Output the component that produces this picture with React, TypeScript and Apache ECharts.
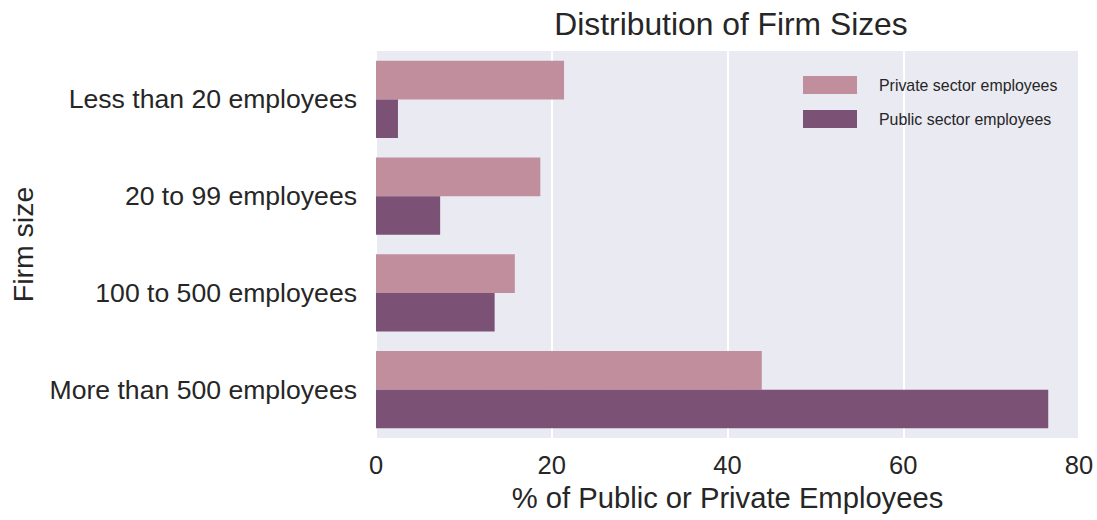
import React, { useEffect, useRef } from "react";
import * as echarts from "echarts";

const categories = [
  "Less than 20 employees",
  "20 to 99 employees",
  "100 to 500 employees",
  "More than 500 employees",
];
const privateValues = [21.4, 18.7, 15.8, 43.9];
const publicValues = [2.5, 7.3, 13.5, 76.5];
const seriesNames = ["Private sector employees", "Public sector employees"];
const xTicks = [0, 20, 40, 60, 80];

const FONT = "'Liberation Sans', Arial, Helvetica, sans-serif";
const TEXT = "#262626";

export default function App() {
  const ref = useRef<HTMLDivElement>(null);
  useEffect(() => {
    if (!ref.current) return;
    const chart = echarts.init(ref.current, undefined, { renderer: "svg" });
    chart.setOption({
      animation: false,
      backgroundColor: "#ffffff",
      textStyle: { fontFamily: FONT },
      title: {
        text: "Distribution of Firm Sizes",
        left: 726,
        textAlign: "center",
        top: 3,
        textStyle: { fontFamily: FONT, fontSize: 31.8, fontWeight: "normal", color: TEXT },
      },
      legend: {
        orient: "vertical",
        left: 803,
        top: 76,
        itemWidth: 54,
        itemHeight: 18,
        itemGap: 16,
        icon: "rect",
        padding: 0,
        textStyle: { fontFamily: FONT, fontSize: 15.9, color: TEXT, padding: [5, 0, 0, 17] },
        data: seriesNames,
      },
      grid: {
        left: 376,
        right: 18,
        top: 51,
        bottom: 82,
        show: true,
        backgroundColor: "#eaeaf2",
        borderWidth: 0,
      },
      xAxis: {
        type: "value",
        min: xTicks[0],
        max: xTicks[xTicks.length - 1],
        interval: 20,
        name: "% of Public or Private Employees",
        nameLocation: "middle",
        nameGap: 45,
        nameTextStyle: { fontFamily: FONT, fontSize: 29.2, color: TEXT },
        axisLine: { show: false },
        axisTick: { show: false },
        axisLabel: { fontFamily: FONT, fontSize: 25.5, color: TEXT, margin: 14 },
        splitLine: { show: true, lineStyle: { color: "#ffffff", width: 2 } },
      },
      yAxis: {
        type: "category",
        inverse: true,
        data: categories,
        name: "Firm size",
        nameLocation: "middle",
        nameGap: 339,
        nameTextStyle: { fontFamily: FONT, fontSize: 28.5, color: TEXT },
        axisLine: { show: false },
        axisTick: { show: false },
        axisLabel: { fontFamily: FONT, fontSize: 26.6, color: TEXT, margin: 19 },
        splitLine: { show: false },
      },
      series: [
        {
          name: seriesNames[0],
          type: "bar",
          data: privateValues,
          barGap: "0%",
          barCategoryGap: "20%",
          itemStyle: { color: "#c08e9c" },
        },
        {
          name: seriesNames[1],
          type: "bar",
          data: publicValues,
          barGap: "0%",
          barCategoryGap: "20%",
          itemStyle: { color: "#7b5276" },
        },
      ],
    });
    return () => chart.dispose();
  }, []);
  return (
    <div
      ref={ref}
      style={{ position: "fixed", left: 0, top: 0, width: 1097, height: 520 }}
    />
  );
}
